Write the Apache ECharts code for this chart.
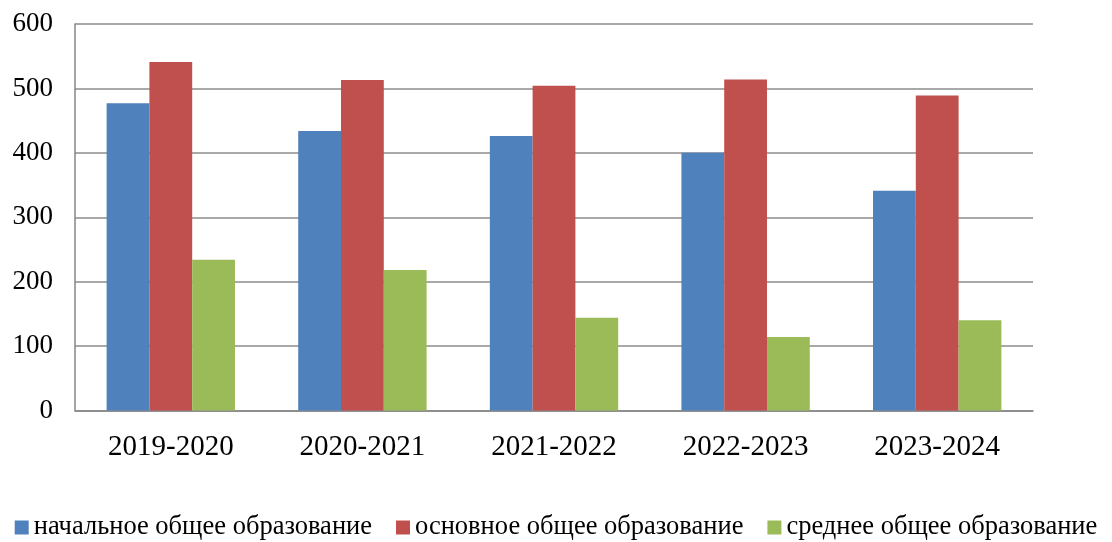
<!DOCTYPE html>
<html>
<head>
<meta charset="utf-8">
<script src="https://cdn.jsdelivr.net/npm/echarts@6/dist/echarts.min.js"></script>
<style>
html,body{margin:0;padding:0;background:#fff;}
#chart{width:1112px;height:542px;}
</style>
</head>
<body>
<div id="chart"></div>
<script>
var categories = ['2019-2020', '2020-2021', '2021-2022', '2022-2023', '2023-2024'];
var seriesNames = ['начальное общее образование', 'основное общее образование', 'среднее общее образование'];
var primary = [477, 434, 426, 400, 341];
var basic = [541, 513, 504, 514, 489];
var secondary = [234, 218, 144, 114, 140];
var yTicks = [0, 100, 200, 300, 400, 500, 600];

var colors = ['#4F81BD', '#C0504D', '#9BBB59'];
var font = 'Liberation Serif';

var chart = echarts.init(document.getElementById('chart'));
chart.setOption({
  animation: false,
  color: colors,
  textStyle: { fontFamily: font },
  grid: { left: 75, right: 79, top: 24, bottom: 131.5, containLabel: false },
  legend: {
    top: 509,
    left: 'center',
    itemWidth: 14,
    itemHeight: 14,
    itemGap: 24,
    icon: 'rect',
    textStyle: { fontFamily: font, fontSize: 26.5, color: '#000' },
    data: seriesNames
  },
  xAxis: {
    type: 'category',
    data: categories,
    axisLine: { lineStyle: { color: '#868686', width: 1.5 } },
    axisTick: { show: false },
    axisLabel: { fontFamily: font, fontSize: 29, color: '#000', margin: 22 }
  },
  yAxis: {
    type: 'value',
    min: yTicks[0],
    max: yTicks[yTicks.length - 1],
    interval: 100,
    axisLine: { show: true, lineStyle: { color: '#868686', width: 1.5 } },
    axisTick: { show: false },
    splitLine: { lineStyle: { color: '#8c8c8c', width: 1.5 } },
    axisLabel: { fontFamily: font, fontSize: 27, color: '#000', margin: 22 }
  },
  series: [
    { name: seriesNames[0], type: 'bar', data: primary, barGap: '0%', barCategoryGap: '33%' },
    { name: seriesNames[1], type: 'bar', data: basic, barGap: '0%', barCategoryGap: '33%' },
    { name: seriesNames[2], type: 'bar', data: secondary, barGap: '0%', barCategoryGap: '33%' }
  ]
});
</script>
</body>
</html>
